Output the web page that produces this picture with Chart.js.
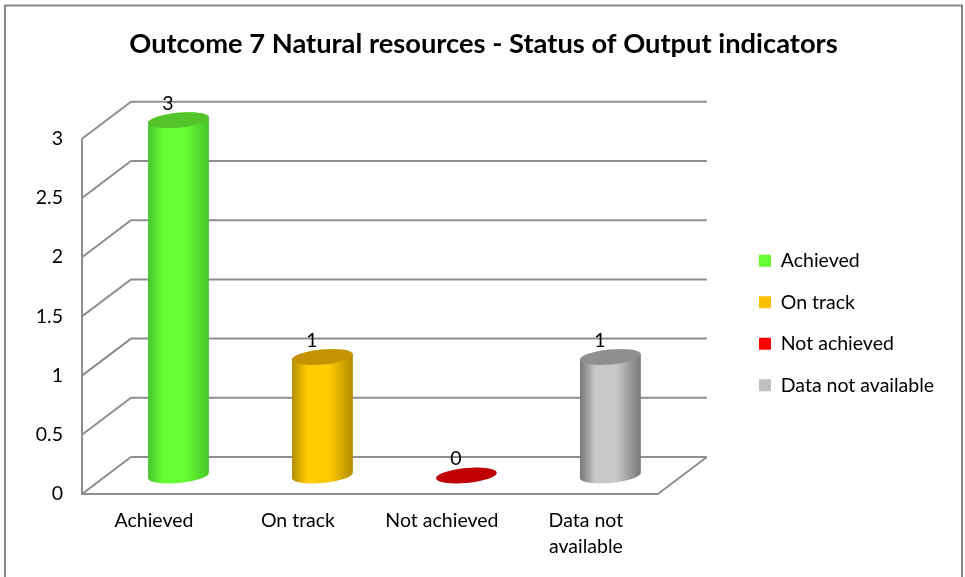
<!DOCTYPE html>
<html lang="en">
<head>
<meta charset="UTF-8">
<title>Outcome 7 Natural resources</title>
<script src="https://cdn.jsdelivr.net/npm/chart.js@4"></script>
<style>
    html, body { margin: 0; padding: 0; background: #fff; }
    canvas { display: block; }
</style>
</head>
<body>
<canvas id="chart" width="965" height="577"></canvas>
<script>
const categories = ['Achieved', 'On track', 'Not achieved', ['Data not', 'available']];
const legendLabels = ['Achieved', 'On track', 'Not achieved', 'Data not available'];
const values = [3, 1, 0, 1];
const legendColors = ['#66ff33', '#ffc000', '#ff0000', '#bfbfbf'];
const edgeColors = ['#46c42a', '#b58a00', '#8f0000', '#767676'];
const midColors = ['#66ff33', '#ffcc00', '#c00000', '#c8c8c8'];
const capColors = ['#55c42b', '#c49400', '#c00000', '#8f8f8f'];
const titleText = 'Outcome 7 Natural resources - Status of Output indicators';

const FONT = 'Lato, Carlito, sans-serif';
const LINE = '#8e8e8e';
// how far the back wall sits from the front plane
const DEPTH_X = 49;
const DEPTH_Y = 37;

// 3D box: frame, back wall grid and side wall lines
const wallsPlugin = {
    id: 'walls',
    beforeDraw(chart) {
        const ctx = chart.ctx;
        ctx.save();
        ctx.strokeStyle = '#868686';
        ctx.lineWidth = 2;
        ctx.beginPath();
        ctx.moveTo(5, 577);
        ctx.lineTo(5, 5.5);
        ctx.lineTo(962, 5.5);
        ctx.lineTo(962, 577);
        ctx.stroke();
        ctx.restore();
    },
    beforeDatasetsDraw(chart) {
        const ctx = chart.ctx;
        const y = chart.scales.y;
        const { left, right, top, bottom } = chart.chartArea;
        ctx.save();
        ctx.strokeStyle = LINE;
        ctx.lineWidth = 2;
        ctx.beginPath();
        y.ticks.forEach(t => {
            const py = y.getPixelForValue(t.value);
            ctx.moveTo(left, py);
            ctx.lineTo(left + DEPTH_X, py - DEPTH_Y);
            ctx.lineTo(right + DEPTH_X, py - DEPTH_Y);
        });
        ctx.moveTo(left, top);
        ctx.lineTo(left, bottom);
        ctx.lineTo(right, bottom);
        ctx.lineTo(right + DEPTH_X, bottom - DEPTH_Y);
        ctx.stroke();
        ctx.restore();
    }
};

// bars are drawn as cylinders, from the positions the bar elements got
const cylinderPlugin = {
    id: 'cylinders',
    beforeDatasetDraw() {
        return false;
    },
    afterDatasetsDraw(chart) {
        const ctx = chart.ctx;
        const bars = chart.getDatasetMeta(0).data;
        const tilt = -0.09;
        bars.forEach((bar, i) => {
            const cx = bar.x + DEPTH_X / 2;
            const topY = bar.y - DEPTH_Y / 2;
            const baseY = bar.base - DEPTH_Y / 2;
            const rx = bar.width / 2;
            const ry = 7.5;
            ctx.save();
            if (values[i] > 0) {
                const g = ctx.createLinearGradient(cx - rx, 0, cx + rx, 0);
                g.addColorStop(0, edgeColors[i]);
                g.addColorStop(0.25, midColors[i]);
                g.addColorStop(0.6, midColors[i]);
                g.addColorStop(1, edgeColors[i]);
                ctx.fillStyle = g;
                ctx.beginPath();
                ctx.ellipse(cx, baseY, rx, ry, tilt, 0, Math.PI);
                ctx.ellipse(cx, topY, rx, ry, tilt, Math.PI, Math.PI * 2);
                ctx.closePath();
                ctx.fill();
            }
            ctx.fillStyle = capColors[i];
            ctx.beginPath();
            ctx.ellipse(cx, topY, rx, ry, tilt, 0, Math.PI * 2);
            ctx.fill();

            ctx.fillStyle = '#000';
            ctx.font = '19.5px ' + FONT;
            ctx.textAlign = 'center';
            ctx.textBaseline = 'middle';
            ctx.fillText(values[i], bar.x + 14, bar.y - 35);
            ctx.restore();
        });
    }
};

// legend and title are placed on the full width, the plot keeps the gap the 3D depth needs
const placementPlugin = {
    id: 'placement',
    afterLayout(chart) {
        const legend = chart.legend;
        legend.left = 759 - legend.options.labels.padding;
        legend.right = 965;
        legend.top = 251 - legend.options.labels.padding;
        chart.titleBlock.left = 0;
        chart.titleBlock.right = 967;
    }
};

new Chart(document.getElementById('chart'), {
    type: 'bar',
    data: {
        labels: categories,
        datasets: [{
            data: values,
            backgroundColor: legendColors,
            barPercentage: 0.424,
            categoryPercentage: 1
        }]
    },
    plugins: [wallsPlugin, cylinderPlugin, placementPlugin],
    options: {
        responsive: false,
        animation: false,
        layout: { padding: { right: 100 } },
        scales: {
            x: {
                grid: { display: false },
                border: { display: false },
                afterFit(scale) { scale.height = 83; },
                ticks: {
                    color: '#000',
                    padding: 6,
                    maxRotation: 0,
                    autoSkip: false,
                    font: { family: FONT, size: 19.5, lineHeight: 1.33 }
                }
            },
            y: {
                min: 0,
                max: 3,
                grid: { display: false },
                border: { display: false },
                afterFit(scale) { scale.width = 82; },
                ticks: {
                    color: '#000',
                    stepSize: 0.5,
                    padding: 11,
                    callback: v => String(v),
                    font: { family: FONT, size: 19.5 }
                }
            }
        },
        plugins: {
            title: {
                display: true,
                text: titleText,
                color: '#000',
                font: { family: FONT, size: 27.3, weight: 'bold' },
                padding: { top: 28, bottom: 78 }
            },
            tooltip: { enabled: false },
            legend: {
                position: 'right',
                align: 'start',
                labels: {
                    color: '#000',
                    boxWidth: 12,
                    boxHeight: 12,
                    padding: 22,
                    font: { family: FONT, size: 19.5 },
                    generateLabels() {
                        return legendLabels.map((text, i) => ({
                            text: text,
                            fillStyle: legendColors[i],
                            strokeStyle: legendColors[i],
                            lineWidth: 0,
                            fontColor: '#000',
                            index: i
                        }));
                    }
                }
            }
        }
    }
});
</script>
</body>
</html>
